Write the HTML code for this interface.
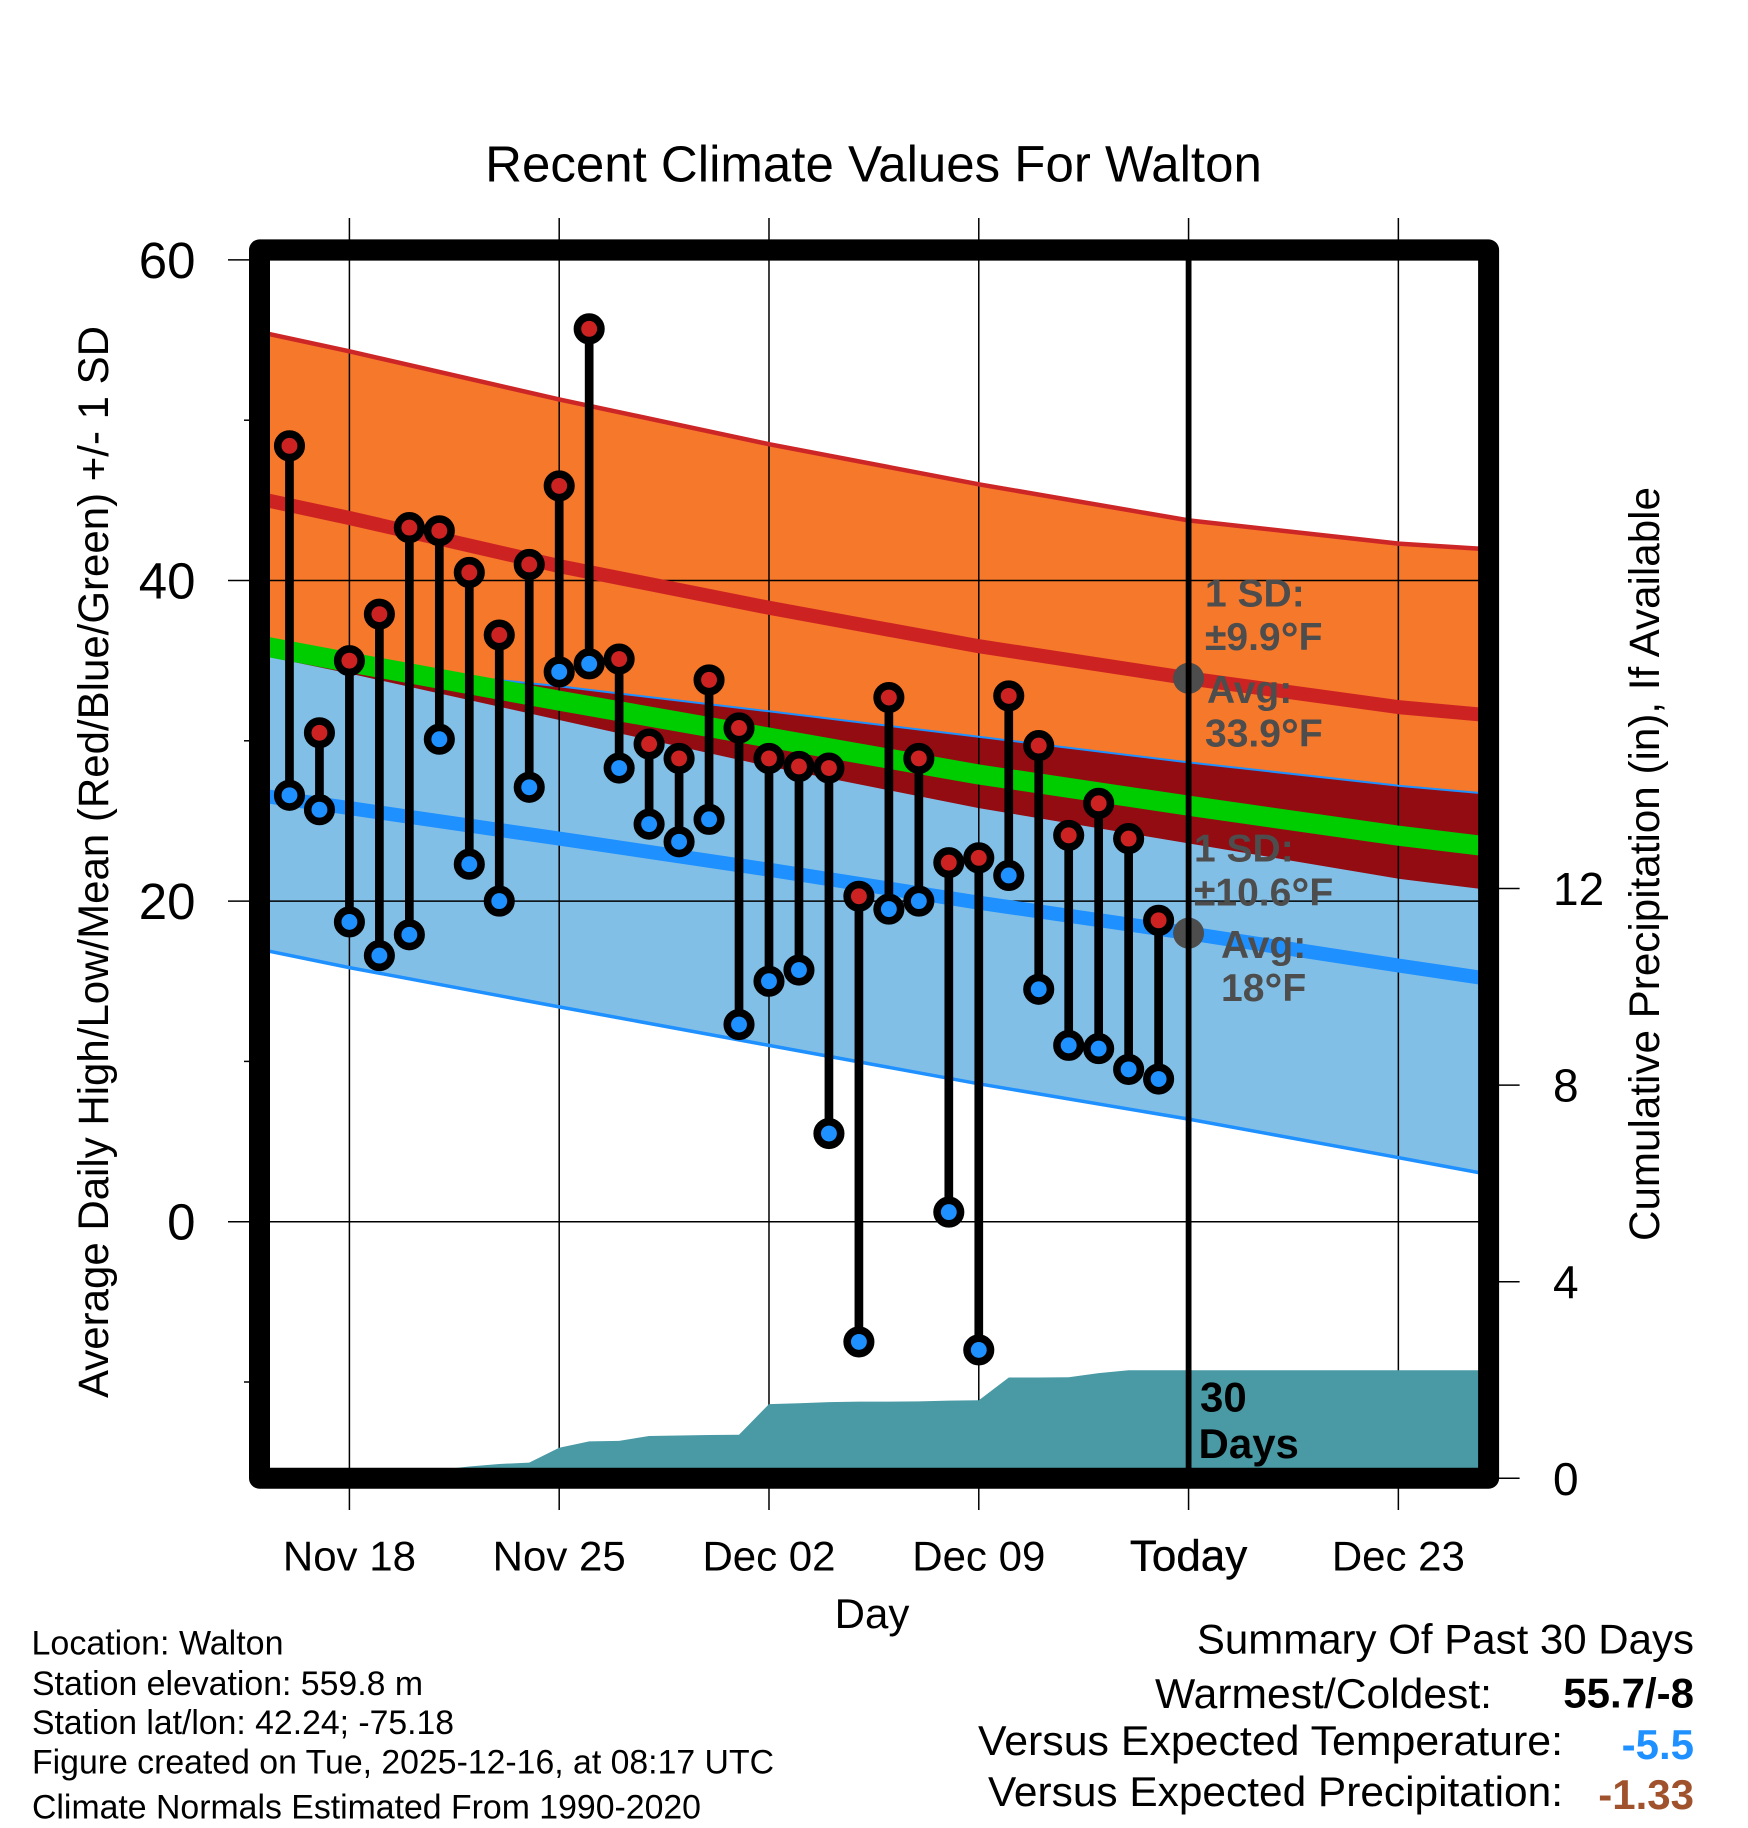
<!DOCTYPE html>
<html lang="en">
<head>
<meta charset="utf-8">
<title>Recent Climate Values For Walton</title>
<style>
html,body{margin:0;padding:0;background:#fff;}
svg{display:block;font-family:"Liberation Sans",Arial,sans-serif;}
</style>
</head>
<body>
<svg id="chart" xmlns="http://www.w3.org/2000/svg" width="1748" height="1828" viewBox="0 0 1748 1828">
  <rect x="0" y="0" width="1748" height="1828" fill="#ffffff"/>
  <defs>
    <clipPath id="plot-clip"><rect x="259.5" y="250" width="1229" height="1228"/></clipPath>
  </defs>
  <g id="bands" clip-path="url(#plot-clip)"></g>
  <g id="grid"></g>
  <g id="means" clip-path="url(#plot-clip)"></g>
  <g id="precip" clip-path="url(#plot-clip)"></g>
  <g id="today-markers"></g>
  <line x1="1188.6" x2="1188.6" y1="250" y2="1478" stroke="#000" stroke-width="5.8"/>
  <g id="stems"></g>
  <g id="points"></g>

  <g font-weight="700" font-size="39" fill="#4d4d4d">
    <text x="1205" y="606.3">1 SD:</text>
    <text x="1205" y="650">±9.9<tspan font-size="45" dy="4">°</tspan><tspan dy="-4">F</tspan></text>
    <text x="1207" y="702.8">Avg:</text>
    <text x="1205" y="746.7">33.9<tspan font-size="45" dy="4">°</tspan><tspan dy="-4">F</tspan></text>
    <text x="1194" y="861.4">1 SD:</text>
    <text x="1194" y="905.3">±10.6<tspan font-size="45" dy="4">°</tspan><tspan dy="-4">F</tspan></text>
    <text x="1221" y="957.9">Avg:</text>
    <text x="1221" y="1001">18<tspan font-size="45" dy="4">°</tspan><tspan dy="-4">F</tspan></text>
  </g>
  <g font-weight="700" font-size="42" fill="#000">
    <text x="1200" y="1411.7">30</text>
    <text x="1198.5" y="1458">Days</text>
  </g>

  <rect x="259.5" y="249.9" width="1229.1" height="1228.3" fill="none" stroke="#000" stroke-width="21" stroke-linejoin="round"/>
  <g id="labels" fill="#000"></g>

  <text x="873.5" y="181.7" text-anchor="middle" font-size="51">Recent Climate Values For Walton</text>
  <text x="872" y="1628" text-anchor="middle" font-size="42">Day</text>
  <text transform="translate(108 862) rotate(-90)" text-anchor="middle" font-size="42.5" textLength="1072" lengthAdjust="spacingAndGlyphs">Average Daily High/Low/Mean (Red/Blue/Green) +/- 1 SD</text>
  <text transform="translate(1659 864) rotate(-90)" text-anchor="middle" font-size="42.5" textLength="754" lengthAdjust="spacingAndGlyphs">Cumulative Precipitation (in), If Available</text>

  <g font-size="34" fill="#000">
    <text x="31.5" y="1654.3">Location: Walton</text>
    <text x="32" y="1695" textLength="391" lengthAdjust="spacingAndGlyphs">Station elevation: 559.8 m</text>
    <text x="32" y="1734" textLength="422" lengthAdjust="spacingAndGlyphs">Station lat/lon: 42.24; -75.18</text>
    <text x="32" y="1773.3" textLength="742" lengthAdjust="spacingAndGlyphs">Figure created on Tue, 2025-12-16, at 08:17 UTC</text>
    <text x="32" y="1818.3" textLength="669" lengthAdjust="spacingAndGlyphs">Climate Normals Estimated From 1990-2020</text>
  </g>
  <g font-size="42" fill="#000">
    <text x="1694" y="1653.3" text-anchor="end">Summary Of Past 30 Days</text>
    <text x="1155" y="1708" textLength="337" lengthAdjust="spacingAndGlyphs">Warmest/Coldest:</text>
    <text x="1694" y="1707.7" font-weight="700" text-anchor="end">55.7/-8</text>
    <text x="978" y="1755" textLength="585" lengthAdjust="spacingAndGlyphs">Versus Expected Temperature:</text>
    <text x="1694" y="1759" font-weight="700" fill="#1e90ff" text-anchor="end">-5.5</text>
    <text x="988" y="1806" textLength="575" lengthAdjust="spacingAndGlyphs">Versus Expected Precipitation:</text>
    <text x="1694" y="1809" font-weight="700" fill="#a0522d" text-anchor="end">-1.33</text>
  </g>
</svg>

<script>
// Daily observations, Nov 16 through Dec 15
const obsDays = ["Nov 16","Nov 17","Nov 18","Nov 19","Nov 20","Nov 21","Nov 22","Nov 23","Nov 24","Nov 25","Nov 26","Nov 27","Nov 28","Nov 29","Nov 30","Dec 01","Dec 02","Dec 03","Dec 04","Dec 05","Dec 06","Dec 07","Dec 08","Dec 09","Dec 10","Dec 11","Dec 12","Dec 13","Dec 14","Dec 15"];
const highTemps = [48.4,30.5,35.0,37.9,43.3,43.1,40.5,36.6,41.0,45.9,55.7,35.1,29.8,28.9,33.8,30.8,28.9,28.4,28.3,20.3,32.7,28.9,22.4,22.7,32.8,29.7,24.1,26.1,23.9,18.8];
const lowTemps = [26.6,25.7,18.7,16.6,17.9,30.1,22.3,20.0,27.1,34.3,34.8,28.3,24.8,23.7,25.1,12.3,15.0,15.7,5.5,-7.5,19.5,20.0,0.6,-8.0,21.6,14.5,11.0,10.8,9.5,8.9];
const precipTotals = [0,0,0,0,0,0.17,0.24,0.29,0.32,0.62,0.75,0.76,0.86,0.87,0.88,0.885,1.51,1.525,1.55,1.56,1.56,1.565,1.58,1.587,2.05,2.05,2.055,2.14,2.2,2.2];

// Climatology curves read at weekly dates (Nov 15 ... Dec 26)
const climDays = ["Nov 15","Nov 18","Nov 25","Dec 02","Dec 09","Dec 16","Dec 23","Dec 26"];
const highUpper = [55.5,54.3,51.3,48.5,46.0,43.75,42.3,41.95];
const highMean = [45.1,43.9,40.9,38.3,35.9,33.9,32.1,31.6];
const highLower = [35.75,34.2,31.3,28.4,25.8,23.6,21.4,20.7];
const lowUpper = [35.35,34.75,33.4,31.84,30.25,28.65,27.2,26.7];
const overallMean = [35.95,34.9,32.5,30.2,27.9,25.95,24.08,23.4];
const lowMean = [26.6,25.8,23.9,21.96,19.9,18.0,15.98,15.15];
const lowLower = [17.0,15.85,13.4,11.0,8.6,6.4,4.0,2.95];

// Axis ticks
const xTickLabels = ["Nov 18","Nov 25","Dec 02","Dec 09","Today","Dec 23"];
const xTickDates = ["Nov 18","Nov 25","Dec 02","Dec 09","Dec 16","Dec 23"];
const yTicks = [60,40,20,0];
const yMinorTicks = [50,30,10,-10];
const precipTicks = [0,4,8,12];
const todayAverages = [33.9,18.0];
const precipEndDate = "Dec 26";
const precipEndValue = 2.2;

const NS = "http://www.w3.org/2000/svg";
const MONTH_OFFSET = {Nov: -15, Dec: 15};
function dayIndex(label) {
  const parts = label.split(" ");
  return MONTH_OFFSET[parts[0]] + parseInt(parts[1], 10);
}
function xPos(label) { return 259.5 + 29.97 * dayIndex(label); }
function yTemp(v) { return 1221.7 - 16.03 * v; }
function yPrecip(v) { return 1478.3 - 49.15 * v; }
function make(tag, parent, attrs) {
  const el = document.createElementNS(NS, tag);
  for (const k in attrs) el.setAttribute(k, attrs[k]);
  parent.appendChild(el);
  return el;
}
function curve(values) {
  return climDays.map((d, i) => xPos(d).toFixed(1) + "," + yTemp(values[i]).toFixed(1));
}
function band(upper, lower) {
  return curve(upper).concat(curve(lower).reverse()).join(" ");
}

const bands = document.getElementById("bands");
const orangeBand = make("polygon", bands, {points: band(highUpper, highLower), fill: "#f6782b"});


const blueBand = make("polygon", bands, {points: band(lowUpper, lowLower), fill: "#82bfe7"});


const overlapLower = highLower.map((v, i) => Math.min(v, lowUpper[i]));
const overlapBand = make("polygon", bands, {points: band(lowUpper, overlapLower), fill: "#920c12"});



// Gridlines and ticks
const grid = document.getElementById("grid");
const labels = document.getElementById("labels");
xTickDates.forEach((d, i) => {
  const line = make("line", grid, {x1: xPos(d), x2: xPos(d), y1: 218, y2: 1510, stroke: "#000", "stroke-width": 1.5});
  
  
  const attrs = {x: xPos(d), y: 1570.7, "text-anchor": "middle", "font-size": 42};
  if (xTickLabels[i] === "Today") { attrs["font-size"] = 44; attrs.stroke = "#000"; attrs["stroke-width"] = 0.4; }
  const t = make("text", labels, attrs);
  
  
  t.textContent = xTickLabels[i];
});
yTicks.forEach(v => {
  const line = make("line", grid, {x1: 228, x2: 1480, y1: yTemp(v), y2: yTemp(v), stroke: "#000", "stroke-width": 1.5});
  
  
  const t = make("text", labels, {x: 195.5, y: yTemp(v) + 18, "text-anchor": "end", "font-size": 51});
  
  
  t.textContent = v;
});
yMinorTicks.forEach(v => {
  const line = make("line", grid, {x1: 244, x2: 255, y1: yTemp(v), y2: yTemp(v), stroke: "#000", "stroke-width": 1.5});
  
  
});
precipTicks.forEach(v => {
  const line = make("line", grid, {x1: 1490, x2: 1519.6, y1: yPrecip(v), y2: yPrecip(v), stroke: "#000", "stroke-width": 1.5});
  
  
  const t = make("text", labels, {x: 1553, y: yPrecip(v) + 16.5, "font-size": 46});
  
  
  t.textContent = v;
});

// Climatology lines
const means = document.getElementById("means");
function drawLine(values, color, width) {
  const el = make("polyline", means, {points: curve(values).join(" "), fill: "none", stroke: color, "stroke-width": width, "stroke-linejoin": "round"});
  return el;
}
const highUpperLine = drawLine(highUpper, "#cd2626", 4.5);


const lowUpperLine = drawLine(lowUpper, "#1e90ff", 2);


const lowLowerLine = drawLine(lowLower, "#1e90ff", 3.5);


const highMeanLine = drawLine(highMean, "#cd2222", 14);


const lowMeanLine = drawLine(lowMean, "#1e90ff", 14);


const overallMeanLine = drawLine(overallMean, "#00cd00", 20);



// Cumulative precipitation
const precipPts = [xPos(obsDays[0]).toFixed(1) + "," + yPrecip(0).toFixed(1)];
obsDays.forEach((d, i) => precipPts.push(xPos(d).toFixed(1) + "," + yPrecip(precipTotals[i]).toFixed(1)));
precipPts.push(xPos(precipEndDate).toFixed(1) + "," + yPrecip(precipEndValue).toFixed(1));
precipPts.push(xPos(precipEndDate).toFixed(1) + "," + yPrecip(0).toFixed(1));
const precipArea = make("polygon", document.getElementById("precip"), {points: precipPts.join(" "), fill: "#4a9aa5"});



// Today's averages
const todayGroup = document.getElementById("today-markers");
todayAverages.forEach(v => {
  const c = make("circle", todayGroup, {cx: xPos("Dec 16"), cy: yTemp(v), r: 15.5, fill: "#4d4d4d"});
  
  
});

// Daily stems and markers
const stems = document.getElementById("stems");
const points = document.getElementById("points");
obsDays.forEach((d, i) => {
  const x = xPos(d);
  const stem = make("line", stems, {x1: x, x2: x, y1: yTemp(highTemps[i]), y2: yTemp(lowTemps[i]), stroke: "#000", "stroke-width": 8.7});
  
  
  const low = make("circle", points, {cx: x, cy: yTemp(lowTemps[i]), r: 11.75, fill: "#1e90ff", stroke: "#000", "stroke-width": 7.6});
  
  
  const high = make("circle", points, {cx: x, cy: yTemp(highTemps[i]), r: 11.75, fill: "#cd2222", stroke: "#000", "stroke-width": 7.6});
  
  
});
</script>
</body>
</html>
